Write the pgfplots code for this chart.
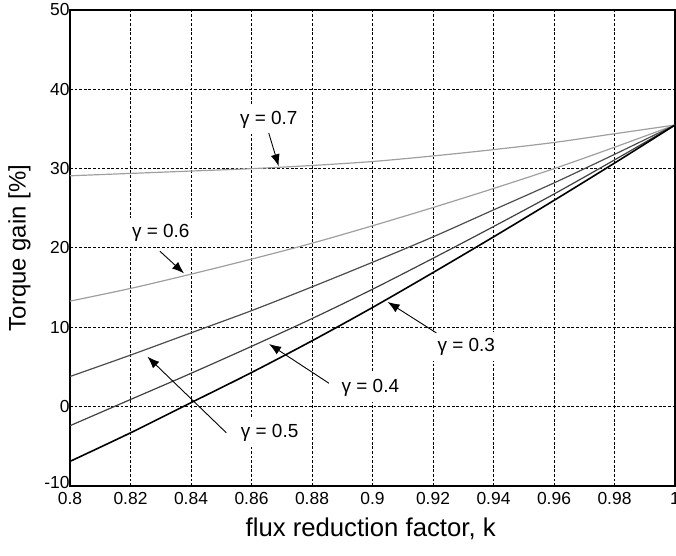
\documentclass[border=0pt]{standalone}
\usepackage{fontspec}
\setmainfont{Liberation Sans}
\usepackage{pgfplots}
\pgfplotsset{compat=1.18}
\usetikzlibrary{arrows.meta}
\begin{document}
\begin{tikzpicture}
\begin{axis}[
  scale only axis, width=605bp, height=476bp,
  xmin=0.8, xmax=1, ymin=-10, ymax=50,
  xtick={0.8,0.82,0.84,0.86,0.88,0.9,0.92,0.94,0.96,0.98,1},
  xticklabels={0.8,0.82,0.84,0.86,0.88,0.9,0.92,0.94,0.96,0.98,1},
  ytick={-10,0,10,20,30,40,50},
  yticklabels={\raisebox{7bp}{-10},0,10,20,30,40,50},
  grid=major,
  major grid style={black, line width=1bp, dash pattern=on 2.8bp off 1.8bp},
  axis line style={line width=1.4bp},
  tick style={draw=none},
  /pgf/number format/assume math mode=true,
  xticklabel style={font=\fontsize{17.5}{17.5}\selectfont, yshift=-3bp},
  yticklabel style={font=\fontsize{17.5}{17.5}\selectfont, xshift=3bp},
  xlabel={flux reduction factor, k},
  ylabel={Torque gain [\%]},
  xlabel style={font=\fontsize{25.8}{25.8}\selectfont, at={(axis description cs:0.497,-0.107)}, anchor=base},
  ylabel style={font=\fontsize{24}{24}\selectfont, at={(axis description cs:-0.0835,0.5)}, anchor=center},
  clip=false,
]
\addplot[gray!75, line width=1.2bp, smooth] coordinates {(0.8,29.1)(0.82,29.4)(0.84,29.7)(0.86,30.0)(0.88,30.4)(0.9,30.9)(0.92,31.6)(0.94,32.4)(0.96,33.3)(0.98,34.4)(1.0,35.5)};
\addplot[gray!75, line width=1.2bp, smooth] coordinates {(0.8,13.3)(0.82,14.9)(0.84,16.7)(0.86,18.6)(0.88,20.6)(0.9,22.8)(0.92,25.1)(0.94,27.5)(0.96,30.0)(0.98,32.7)(1.0,35.5)};
\addplot[black!70, line width=1.2bp, smooth] coordinates {(0.8,3.8)(0.82,6.5)(0.84,9.3)(0.86,12.1)(0.88,15.1)(0.9,18.2)(0.92,21.4)(0.94,24.8)(0.96,28.2)(0.98,31.8)(1.0,35.5)};
\addplot[black!75, line width=1.2bp, smooth] coordinates {(0.8,-2.4)(0.82,0.9)(0.84,4.2)(0.86,7.6)(0.88,11.1)(0.9,14.8)(0.92,18.7)(0.94,22.7)(0.96,26.8)(0.98,31.1)(1.0,35.5)};
\addplot[black, line width=1.6bp, smooth] coordinates {(0.8,-6.9)(0.82,-3.3)(0.84,0.5)(0.86,4.3)(0.88,8.3)(0.9,12.5)(0.92,16.9)(0.94,21.4)(0.96,26.0)(0.98,30.7)(1.0,35.5)};
\tikzset{lab/.style={fill=white, inner sep=6bp, font=\fontsize{19}{19}\selectfont},
         arr/.style={-{Latex[length=12bp,width=9bp]}, line width=0.9bp}}
\node[lab] at (axis cs:0.8657,36.2) {γ = 0.7};
\node[lab] at (axis cs:0.830,21.9) {γ = 0.6};
\node[lab] at (axis cs:0.866,-3.3) {γ = 0.5};
\node[lab] at (axis cs:0.8993,2.4) {γ = 0.4};
\node[lab] at (axis cs:0.931,7.6) {γ = 0.3};
\draw[arr] (axis cs:0.8657,34.5) -- (axis cs:0.869,30.3);
\draw[arr] (axis cs:0.8297,19.6) -- (axis cs:0.8377,16.8);
\draw[arr] (axis cs:0.8517,-3.3) -- (axis cs:0.8256,6.3);
\draw[arr] (axis cs:0.8856,2.95) -- (axis cs:0.8658,7.9);
\draw[arr] (axis cs:0.9211,9.3) -- (axis cs:0.905,13.2);
\end{axis}
\pgfresetboundingbox
\path ([shift={(-70bp,-70bp)}]current axis.south west) rectangle ([shift={(1bp,10bp)}]current axis.north east);
\end{tikzpicture}
\end{document}
